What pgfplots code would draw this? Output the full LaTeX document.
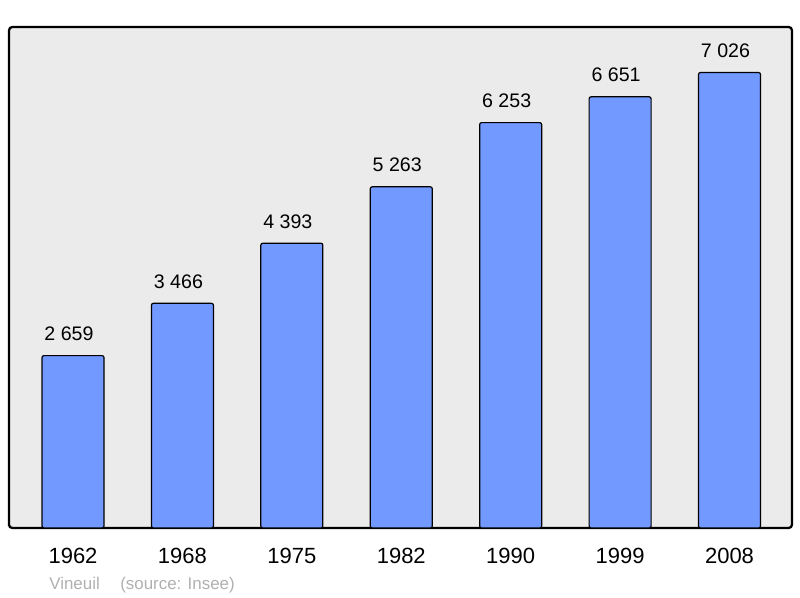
\documentclass[border=0pt]{standalone}
\usepackage{pgfplots}
\pgfplotsset{compat=1.18}
\usepackage{fontspec}
\setmainfont{Liberation Sans}
\definecolor{barblue}{RGB}{114,153,255}
\definecolor{bggray}{RGB}{235,235,235}
\definecolor{srcgray}{RGB}{176,176,176}
\begin{document}
\begin{tikzpicture}
\path[use as bounding box] (0pt,0pt) rectangle (600pt,448.5pt);
\begin{axis}[
  at={(6.75pt,428.25pt)}, anchor=north west,
  scale only axis,
  width=587.25pt, height=375.75pt,
  xmin=-0.585, xmax=6.571,
  ymin=0, ymax=7728,
  axis background/.style={fill=bggray},
  axis line style={line width=1.7pt, black, rounded corners=2.5pt},
  ytick=\empty,
  xtick=data,
  xticklabels={1962,1968,1975,1982,1990,1999,2008},
  major tick length=0pt,
  xticklabel style={font=\fontsize{16.5}{19}\selectfont, anchor=base, yshift=-27pt},
  ybar, bar width=46.5pt,
  /pgf/number format/assume math mode=true,
  nodes near coords={\pgfmathprintnumber[1000 sep={\ }]{\pgfplotspointmeta}},
  every node near coord/.append style={font=\fontsize{14.7}{17}\selectfont, anchor=base, yshift=11.25pt, xshift=-3pt, black},
  clip=false,
]
\addplot[fill=barblue, draw=black, line width=0.9pt, rounded corners=1.5pt] coordinates {
(0,2659) (1,3466) (2,4393) (3,5263) (4,6253) (5,6651) (6,7026)};
\end{axis}
\node[anchor=base west, text=srcgray, font=\fontsize{12.7}{15}\selectfont, inner sep=0pt] at (36.75pt,6pt) {Vineuil};
\node[anchor=base west, text=srcgray, font=\fontsize{12.7}{15}\selectfont, inner sep=0pt] at (90pt,6pt) {(source: Insee)};
\end{tikzpicture}
\end{document}
